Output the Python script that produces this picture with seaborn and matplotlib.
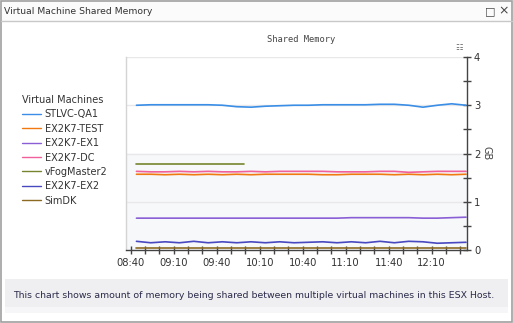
import numpy as np
import pandas as pd
import matplotlib
matplotlib.use("Agg")
import matplotlib.pyplot as plt
import seaborn as sns
from matplotlib.patches import Rectangle
from matplotlib.lines import Line2D
from matplotlib.ticker import MultipleLocator, FixedLocator

# ---- data (minutes since midnight, GB) ----
times = [524, 534, 544, 554, 564, 574, 584, 594, 604, 614, 624, 634,
         644, 654, 664, 674, 684, 694, 704, 714, 724, 734, 744, 754]
stlvc_qa1 = [3.00, 3.01, 3.01, 3.01, 3.01, 3.01, 3.00, 2.97, 2.96, 2.98, 2.99, 3.00,
             3.00, 3.01, 3.01, 3.01, 3.01, 3.02, 3.02, 3.00, 2.96, 3.00, 3.03, 3.00]
ex2k7_test = [1.57, 1.57, 1.56, 1.57, 1.56, 1.57, 1.56, 1.57, 1.56, 1.57, 1.57, 1.57,
              1.57, 1.56, 1.56, 1.57, 1.57, 1.57, 1.56, 1.57, 1.56, 1.57, 1.56, 1.57]
ex2k7_ex1 = [0.66, 0.66, 0.66, 0.66, 0.66, 0.66, 0.66, 0.66, 0.66, 0.66, 0.66, 0.66,
             0.66, 0.66, 0.66, 0.67, 0.67, 0.67, 0.67, 0.67, 0.66, 0.66, 0.67, 0.68]
ex2k7_dc = [1.63, 1.62, 1.62, 1.63, 1.62, 1.63, 1.62, 1.62, 1.63, 1.62, 1.63, 1.63,
            1.63, 1.63, 1.62, 1.62, 1.62, 1.63, 1.63, 1.61, 1.62, 1.63, 1.63, 1.63]
vfog_times = [524, 534, 544, 554, 564, 574, 584, 594, 599]
vfogmaster2 = [1.78, 1.78, 1.78, 1.78, 1.78, 1.78, 1.78, 1.78, 1.78]
ex2k7_ex2 = [0.18, 0.15, 0.17, 0.15, 0.18, 0.15, 0.17, 0.15, 0.17, 0.15, 0.17, 0.15,
             0.16, 0.17, 0.15, 0.17, 0.15, 0.18, 0.15, 0.18, 0.17, 0.14, 0.15, 0.16]
simdk = [0.05] * 24

series_names = ["STLVC-QA1", "EX2K7-TEST", "EX2K7-EX1", "EX2K7-DC",
                "vFogMaster2", "EX2K7-EX2", "SimDK"]
colors = ["#3a8ee6", "#f07a10", "#8a5fd6", "#f0609a", "#76852e", "#4848c0", "#8b6a22"]
xtick_vals = [520, 550, 580, 610, 640, 670, 700, 730]
xtick_labels = ["08:40", "09:10", "09:40", "10:10", "10:40", "11:10", "11:40", "12:10"]

rows = []
for name, ts, vals in [("STLVC-QA1", times, stlvc_qa1), ("EX2K7-TEST", times, ex2k7_test),
                       ("EX2K7-EX1", times, ex2k7_ex1), ("EX2K7-DC", times, ex2k7_dc),
                       ("vFogMaster2", vfog_times, vfogmaster2), ("EX2K7-EX2", times, ex2k7_ex2),
                       ("SimDK", times, simdk)]:
    for t, v in zip(ts, vals):
        rows.append({"time": t, "GB": v, "VM": name})
df = pd.DataFrame(rows)

sns.set_theme(style="white")
plt.rcParams["font.family"] = ["DejaVu Sans"]

W, H = 513, 323
fig = plt.figure(figsize=(W / 100, H / 100), dpi=100)
fig.patch.set_facecolor("white")

def fx(px):
    return px / W

def fy(py):
    return 1 - py / H

# panel chrome
fig.add_artist(Rectangle((fx(1), fy(21)), fx(511), 20 / H, transform=fig.transFigure,
                         facecolor="#fbfbfb", edgecolor="none"))
fig.add_artist(Line2D([fx(1), fx(512)], [fy(21), fy(21)], transform=fig.transFigure,
                      color="#c8c8c8", lw=1))
fig.add_artist(Rectangle((fx(0.6), fy(322.2)), fx(511.6), 321.6 / H, transform=fig.transFigure,
                         fill=False, edgecolor="#a0a0a0", lw=1.2))
fig.text(fx(4), fy(11), "Virtual Machine Shared Memory", fontsize=6.7, color="#333333",
         va="center", ha="left")
fig.text(fx(490), fy(11), "□", fontsize=8, color="#444444", va="center", ha="center")
fig.text(fx(504), fy(11), "×", fontsize=9, color="#444444", va="center", ha="center")

# description box
fig.add_artist(Rectangle((fx(5), fy(307)), fx(503), 28 / H, transform=fig.transFigure,
                         facecolor="#efeff1", edgecolor="none"))
fig.add_artist(Rectangle((fx(5), fy(313)), fx(503), 6 / H, transform=fig.transFigure,
                         facecolor="#f6f6f8", edgecolor="none"))
fig.text(fx(13), fy(295), "This chart shows amount of memory being shared between multiple "
         "virtual machines in this ESX Host.", fontsize=6.75, color="#2b2b4b",
         va="center", ha="left")

# chart title
fig.text(fx(301), fy(39), "Shared Memory", fontsize=6.3, color="#444444",
         va="center", ha="center", family="DejaVu Sans Mono")
fig.text(fx(459), fy(47), "☷", fontsize=6, color="#666666", va="center", ha="center")

ax = fig.add_axes([fx(126), fy(250), fx(467 - 126), (250 - 57) / H])
ax.set_facecolor("white")
ax.axhspan(0, 2, color="#f7f8fa", zorder=0)
for g in [1, 2, 3, 4]:
    ax.axhline(g, color="#e8e8ea", lw=1, zorder=0.5)

sns.lineplot(data=df, x="time", y="GB", hue="VM", hue_order=series_names,
             palette=dict(zip(series_names, colors)), ax=ax, lw=1.2,
             estimator=None, legend=True)

ax.set_xlim(516.7, 754.7)
ax.set_ylim(0, 4)
ax.xaxis.set_major_locator(FixedLocator(xtick_vals))
ax.set_xticklabels(xtick_labels)
ax.xaxis.set_minor_locator(MultipleLocator(10))
ax.yaxis.tick_right()
ax.yaxis.set_label_position("right")
ax.yaxis.set_major_locator(MultipleLocator(1))
ax.yaxis.set_minor_locator(MultipleLocator(0.5))
ax.set_xlabel("")
ax.set_ylabel("GB", rotation=-90, fontsize=7, color="#444444", va="center", ha="center")
ax.yaxis.set_label_coords((486 - 126) / 341, 0.5)

ax.spines["top"].set_visible(False)
ax.spines["left"].set_color("#d4d4d4")
ax.spines["right"].set_color("#444444")
ax.spines["bottom"].set_color("#444444")
for s in ["left", "right", "bottom"]:
    ax.spines[s].set_linewidth(1)

ax.tick_params(axis="x", which="both", direction="inout", length=6, width=1,
               colors="#444444", labelsize=7.2, labelcolor="#333333", pad=3, bottom=True)
ax.tick_params(axis="y", which="both", direction="inout", length=6, width=1,
               colors="#444444", labelsize=7.2, labelcolor="#333333", pad=2,
               right=True, left=False)

sns.move_legend(ax, "upper left", bbox_to_anchor=(fx(22), fy(95)),
                bbox_transform=fig.transFigure, frameon=False, title="Virtual Machines",
                fontsize=7, title_fontsize=7, handlelength=2.0, handletextpad=0.35,
                labelspacing=0.45, borderaxespad=0, borderpad=0)
leg = ax.get_legend()
leg._legend_box.align = "left"
for t in leg.get_texts():
    t.set_color("#333333")
leg.get_title().set_color("#333333")
for h in leg.legend_handles:
    h.set_linewidth(1.0)

fig.savefig("out.png", dpi=100)
